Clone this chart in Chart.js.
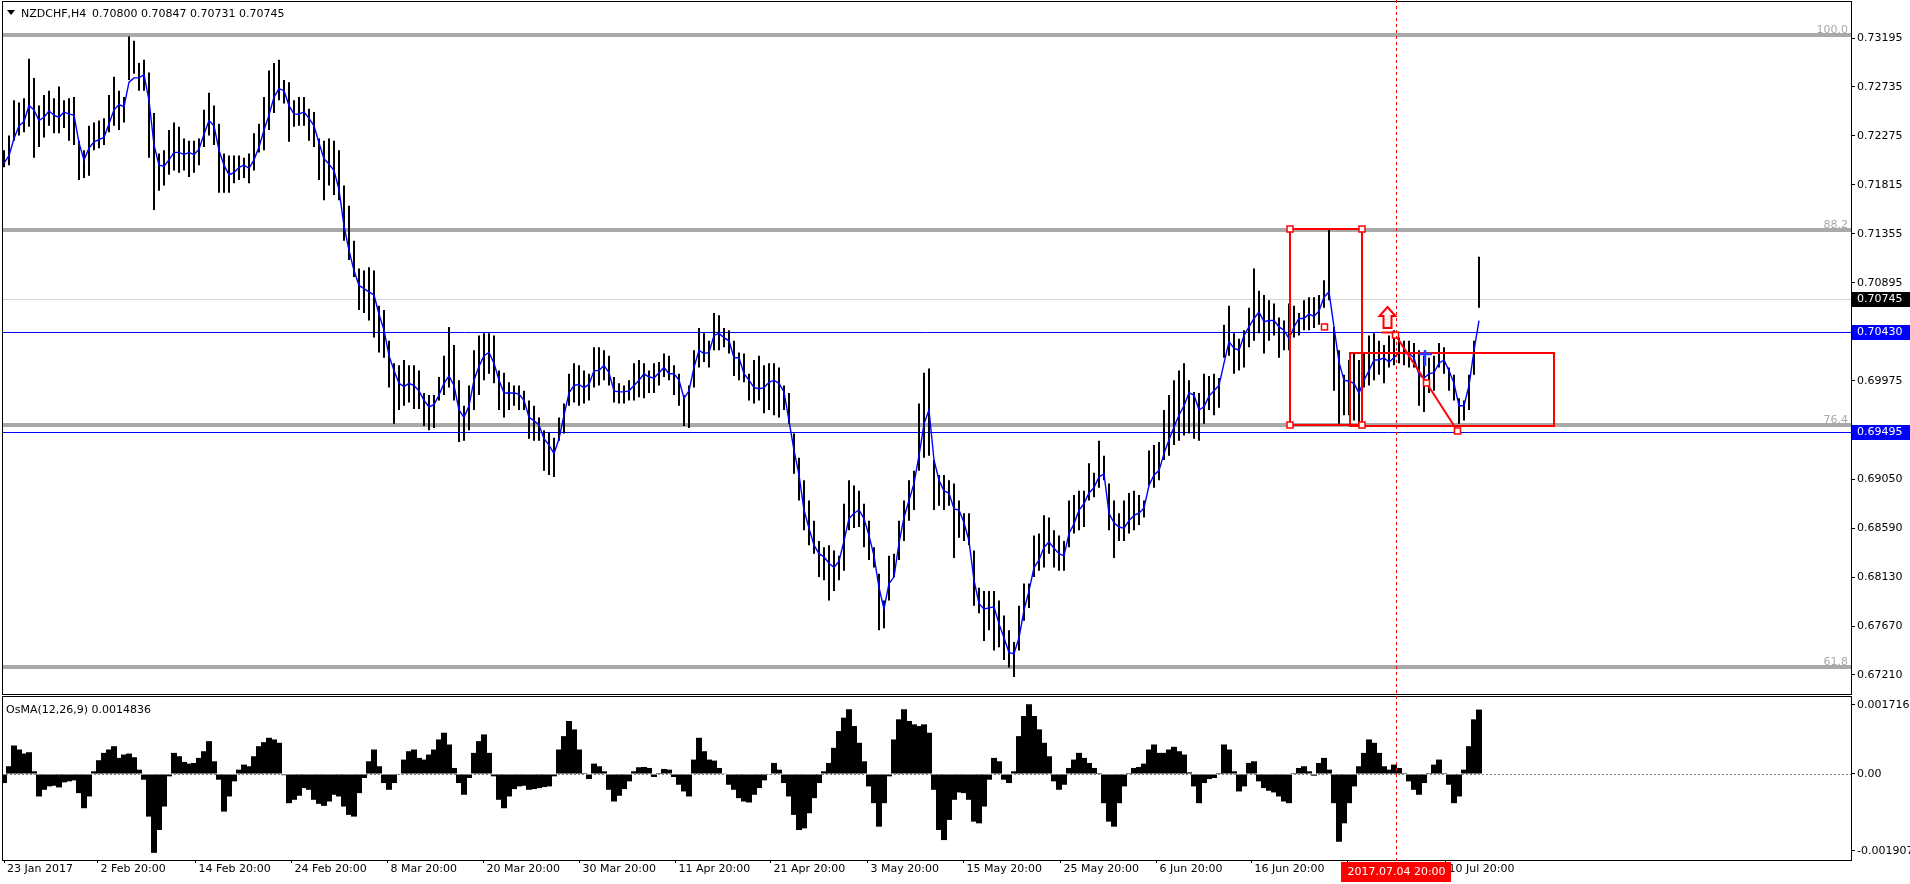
<!DOCTYPE html>
<html>
<head>
<meta charset="utf-8">
<script src="https://cdn.jsdelivr.net/npm/chart.js@4.4.1/dist/chart.umd.min.js"></script>
<style>
  html, body { margin: 0; padding: 0; background: #fff; }
  #wrap { width: 1910px; height: 884px; }
</style>
</head>
<body>
<div id="wrap"><canvas id="chart" width="1910" height="884"></canvas></div>
<script>
// NZDCHF H4 bars, prices in pips (1e-4)
const highs = [
  7214,7228,7261,7259,7263,7300,7282,7256,7266,7270, 7263,7274,7261,7263,7264,7223,7214,7237,7240,7242,
  7244,7266,7283,7270,7264,7321,7317,7296,7299,7287, 7249,7211,7214,7233,7240,7236,7225,7223,7223,7225,
  7252,7268,7256,7239,7211,7209,7209,7209,7207,7211, 7230,7239,7264,7289,7296,7299,7280,7278,7261,7264,
  7264,7253,7250,7225,7223,7225,7223,7214,7181,7162, 7129,7103,7101,7104,7101,7068,7064,7035,7014,7012,
  7017,7012,7012,7007,6986,6984,6984,7001,7021,7048, 7031,6998,6974,6993,7026,7040,7042,7042,7040,7007,
  7005,6996,6993,6993,6988,6979,6974,6963,6951,6949, 6944,6963,6976,7004,7014,7012,7007,7004,7029,7029,
  7026,7021,7001,6995,6993,6998,7014,7017,7014,7007, 7014,7015,7023,7021,7012,7004,6984,6993,7026,7047,
  7042,7035,7061,7059,7047,7045,7035,7024,7023,7004, 7017,7021,7012,7014,7014,7010,6993,6986,6948,6925,
  6904,6885,6866,6847,6841,6843,6838,6833,6882,6904, 6899,6894,6882,6866,6841,6816,6791,6833,6835,6866,
  6885,6904,6913,6976,7005,7009,6923,6909,6909,6904, 6901,6885,6873,6873,6838,6803,6800,6800,6800,6791,
  6777,6763,6752,6786,6807,6807,6852,6854,6871,6869, 6857,6852,6847,6885,6890,6894,6894,6920,6911,6941,
  6927,6901,6885,6873,6885,6892,6894,6890,6885,6932, 6937,6940,6970,6984,6998,7007,7014,6998,6987,6986,
  7004,7002,7004,7000,7050,7068,7042,7037,7045,7066, 7103,7082,7078,7073,7070,7057,7054,7070,7068,7061,
  7073,7076,7076,7078,7092,7139,7048,7026,7003,7017, 7023,7017,7023,7040,7042,7035,7031,7040,7045,7038,
  7035,7035,7033,7026,7021,7019,7021,7033,7029,7010, 7003,6981,6979,7003,7035,7114
];
const lows = [
  7198,7200,7223,7228,7231,7236,7207,7217,7226,7237, 7230,7230,7235,7223,7219,7186,7188,7190,7214,7216,
  7219,7231,7237,7233,7240,7280,7286,7270,7270,7207, 7158,7176,7181,7191,7195,7193,7195,7189,7193,7200,
  7217,7228,7219,7174,7174,7174,7183,7186,7188,7183, 7195,7212,7214,7233,7249,7261,7258,7222,7236,7237,
  7237,7223,7217,7186,7167,7181,7172,7167,7129,7111, 7095,7064,7061,7054,7038,7024,7019,6991,6957,6970,
  6974,6977,6971,6971,6955,6951,6953,6979,6984,6991, 6979,6940,6941,6951,6970,6984,6998,7004,6995,6970,
  6963,6970,6974,6970,6970,6943,6941,6941,6913,6909, 6907,6941,6948,6974,6977,6974,6976,6979,6991,6993,
  6998,6993,6977,6976,6976,6979,6979,6982,6981,6986, 6986,6993,7001,6998,6984,6974,6955,6953,6991,7010,
  7015,7010,7026,7026,7029,7023,7002,6998,6996,6979, 6976,6979,6967,6970,6965,6963,6970,6957,6910,6885,
  6857,6843,6835,6813,6810,6791,6800,6810,6819,6857, 6859,6860,6841,6829,6822,6763,6765,6791,6813,6829,
  6847,6866,6876,6913,6925,6927,6876,6880,6876,6880, 6831,6850,6847,6843,6786,6779,6753,6763,6744,6747,
  6735,6728,6719,6744,6772,6784,6813,6819,6822,6835, 6822,6819,6819,6841,6854,6857,6860,6885,6888,6897,
  6904,6857,6831,6847,6847,6854,6857,6862,6869,6899, 6897,6904,6923,6927,6937,6941,6946,6948,6943,6941,
  6957,6970,6965,6972,7019,7021,7004,7007,7010,7029, 7035,7042,7023,7035,7040,7019,7026,7026,7038,7040,
  7045,7045,7047,7050,7066,7073,6988,6957,6965,6965, 6960,6957,6991,6993,6998,7003,6995,7010,7012,7014,
  7012,7010,7010,6974,6968,6986,6988,7010,7004,6988, 6979,6957,6960,6970,7003,7066
];
// blue moving average, pips
const maLine = [
  7202,7209,7225,7237,7241,7256,7252,7242,7245,7251, 7247,7245,7250,7248,7247,7221,7205,7216,7222,7224,
  7226,7239,7252,7257,7255,7278,7282,7282,7285,7261, 7219,7200,7199,7205,7212,7212,7210,7212,7210,7215,
  7229,7242,7237,7214,7200,7191,7193,7198,7200,7197, 7205,7217,7233,7247,7264,7272,7270,7256,7248,7248,
  7250,7244,7237,7221,7206,7201,7195,7177,7143,7120, 7101,7087,7084,7081,7078,7060,7045,7021,7007,6995,
  6992,6995,6993,6988,6979,6973,6975,6984,6995,7002, 6993,6970,6963,6974,6998,7011,7021,7024,7014,6998,
  6986,6986,6986,6985,6979,6963,6960,6956,6943,6937, 6929,6943,6965,6986,6993,6994,6991,6994,7007,7007,
  7012,7005,6988,6987,6987,6988,6993,6998,7004,7001, 7000,7005,7010,7004,7004,6998,6981,6988,7010,7026,
  7023,7024,7040,7042,7038,7035,7019,7019,7004,6998, 6991,6990,6991,6996,6998,6995,6987,6960,6932,6909,
  6876,6859,6843,6835,6832,6826,6822,6828,6847,6868, 6873,6876,6868,6852,6833,6803,6783,6807,6813,6845,
  6869,6885,6901,6927,6957,6970,6923,6904,6894,6892, 6877,6876,6864,6847,6810,6788,6783,6784,6785,6769,
  6756,6742,6741,6756,6782,6800,6822,6829,6841,6846, 6840,6835,6833,6854,6863,6876,6882,6892,6897,6907,
  6910,6873,6864,6860,6859,6866,6871,6873,6878,6899, 6909,6913,6929,6942,6954,6965,6974,6986,6984,6970,
  6973,6983,6988,6993,7014,7034,7028,7026,7040,7048, 7056,7062,7053,7054,7054,7048,7045,7037,7048,7056,
  7056,7060,7058,7063,7076,7081,7048,7015,6998,6997, 6995,6986,6998,7007,7017,7017,7019,7015,7019,7024,
  7023,7023,7019,7003,7000,7004,7005,7014,7017,7007, 6995,6974,6974,6993,7026,7054
];
// OsMA(12,26,9) histogram, in 1e-6
const osma = [
  -225,192,708,608,508,541,67,-558,-392,-308, -292,-333,-208,-183,-158,-475,-850,-558,67,342,
  525,608,691,400,483,508,416,108,-142,-1058, -1958,-1391,-808,-58,525,441,300,258,275,400,
  566,816,316,-142,-933,-558,-183,108,233,192, 441,691,791,900,858,775,-30,-725,-641,-541,
  -350,-392,-641,-741,-791,-683,-516,-558,-808,-1016, -1058,-475,-100,316,608,192,-225,-392,-225,-17,
  358,566,608,400,358,483,608,858,1025,733, 150,-225,-516,-100,525,816,983,525,-58,-641,
  -850,-558,-375,-308,-292,-392,-375,-350,-325,-308, -58,608,941,1316,1108,608,25,-125,258,192,
  67,-392,-683,-541,-375,-183,67,167,175,150, -75,25,125,108,-75,-267,-433,-558,358,900,
  566,358,333,150,8,-267,-392,-600,-683,-708, -516,-350,-158,-17,275,108,-225,-558,-1016,-1391,
  -1350,-975,-600,-225,67,275,650,1066,1399,1608, 1191,775,316,-308,-725,-1308,-725,-58,858,1358,
  1608,1316,1233,1191,1233,1025,-392,-1391,-1641,-1141, -641,-458,-475,-641,-1183,-1225,-808,-142,400,316,
  -142,-225,67,941,1441,1733,1441,1108,775,441, -183,-392,-267,150,358,525,400,275,150,25,
  -725,-1183,-1308,-725,-308,25,150,175,258,608, 733,525,525,608,675,566,483,42,-308,-725,
  -225,-125,-100,25,733,608,67,-433,-308,275, 316,-183,-350,-417,-458,-558,-683,-725,25,150,
  192,67,-42,275,400,108,-725,-1683,-1225,-725, -308,192,525,858,775,525,192,108,233,150,
  25,-183,-392,-516,-225,25,233,358,25,-267, -725,-558,108,691,1358,1600
];

const priceTicks = [0.73195, 0.72735, 0.72275, 0.71815, 0.71355, 0.70895, 0.69975, 0.69050, 0.68590, 0.68130, 0.67670, 0.67210];
const osmaTicks = [0.0017164, 0, -0.001907];
const osmaTickText = ["0.0017164", "0.00", "-0.001907"];
// time axis: bar index where each label sits
const timeAt = [0.0, 18.7, 38.3, 57.5, 76.7, 95.9, 115.1, 134.3, 153.3, 172.7, 191.9, 211.3, 230.5, 249.5, 268.7, 288.3];
const timeLabels = ["23 Jan 2017", "2 Feb 20:00", "14 Feb 20:00", "24 Feb 20:00", "8 Mar 20:00", "20 Mar 20:00",
  "30 Mar 20:00", "11 Apr 20:00", "21 Apr 20:00", "3 May 20:00", "15 May 20:00", "25 May 20:00",
  "6 Jun 20:00", "16 Jun 20:00", "28 Jun 20:00", "10 Jul 20:00"];

// objects on the chart
const fibLevels = [100.0, 88.2, 76.4, 61.8];
const fibTop = 0.73223, fibRange = 0.15545;
const blueLevels = [0.70430, 0.69495];
const bidPrice = 0.70745;
const headerSymbol = "NZDCHF,H4";
const headerOhlc = "0.70800 0.70847 0.70731 0.70745";
const osmaTitle = "OsMA(12,26,9) 0.0014836";
const crossAt = 278.3, crossLabel = "2017.07.04 20:00";
const rects = [[257.1, 0.71400, 271.5, 0.69559], [269.1, 0.70235, 309.9, 0.69550]];
const trendLine = [[278.3, 0.70404], [290.7, 0.69503]];
const lonePoint = [264.1, 0.70480];
const upArrow = [276.7, 0.70433];
const blueMark = [284.1, 0.70226];

const fibPrice = (lvl) => fibTop - (100 - lvl) / 100 * fibRange;
const FONT = '11px "DejaVu Sans"';

const handle = (ctx, px, py) => {
  ctx.fillStyle = '#fff';
  ctx.fillRect(px - 3, py - 3, 6, 6);
  ctx.strokeRect(px - 3, py - 3, 6, 6);
};

// no extra room for tick labels, the panes are placed by hand
const noPad = (s) => { s.paddingLeft = 0; s.paddingRight = 0; s.paddingTop = 0; s.paddingBottom = 0; };

const overlay = {
  id: 'overlay',
  beforeDatasetsDraw(chart) {
    const { ctx, scales: { y } } = chart;
    const L = 2, R = 1851;
    ctx.save();
    ctx.strokeStyle = '#a9a9a9';
    ctx.lineWidth = 4;
    fibLevels.forEach((lvl) => {
      const py = Math.round(y.getPixelForValue(fibPrice(lvl)));
      ctx.beginPath(); ctx.moveTo(L, py); ctx.lineTo(R, py); ctx.stroke();
    });
    ctx.lineWidth = 1;
    ctx.strokeStyle = '#d3d3d3';
    const py = Math.round(y.getPixelForValue(bidPrice)) + 0.5;
    ctx.beginPath(); ctx.moveTo(L, py); ctx.lineTo(R, py); ctx.stroke();
    ctx.strokeStyle = '#0000ff';
    blueLevels.forEach((v) => {
      const p = Math.round(y.getPixelForValue(v)) + 0.5;
      ctx.beginPath(); ctx.moveTo(L, p); ctx.lineTo(R, p); ctx.stroke();
    });
    ctx.restore();
  },
  afterDatasetsDraw(chart) {
    const { ctx, scales: { x, y, y2 } } = chart;
    ctx.save();
    // zero line of the oscillator
    const z = Math.round(y2.getPixelForValue(0)) + 0.5;
    ctx.strokeStyle = '#808080';
    ctx.setLineDash([2, 2]);
    ctx.beginPath(); ctx.moveTo(2, z); ctx.lineTo(1851, z); ctx.stroke();
    ctx.setLineDash([]);

    // red rectangles
    ctx.strokeStyle = '#ff0000';
    ctx.lineWidth = 2;
    rects.forEach(([i0, p0, i1, p1]) => {
      const x0 = Math.round(x.getPixelForValue(i0)), x1 = Math.round(x.getPixelForValue(i1));
      const y0 = Math.round(y.getPixelForValue(p0)), y1 = Math.round(y.getPixelForValue(p1));
      ctx.strokeRect(x0, y0, x1 - x0, y1 - y0);
    });
    // trend line
    const t0 = [x.getPixelForValue(trendLine[0][0]), y.getPixelForValue(trendLine[0][1])];
    const t1 = [x.getPixelForValue(trendLine[1][0]), y.getPixelForValue(trendLine[1][1])];
    ctx.beginPath(); ctx.moveTo(t0[0], t0[1]); ctx.lineTo(t1[0], t1[1]); ctx.stroke();

    // handles of the selected objects
    ctx.lineWidth = 1.5;
    const [i0, p0, i1, p1] = rects[0];
    const hx0 = Math.round(x.getPixelForValue(i0)), hx1 = Math.round(x.getPixelForValue(i1));
    const hy0 = Math.round(y.getPixelForValue(p0)), hy1 = Math.round(y.getPixelForValue(p1));
    handle(ctx, hx0, hy0); handle(ctx, hx1, hy0); handle(ctx, hx0, hy1); handle(ctx, hx1, hy1);
    handle(ctx, t0[0], t0[1]); handle(ctx, t1[0], t1[1]);
    handle(ctx, (t0[0] + t1[0]) / 2, (t0[1] + t1[1]) / 2);
    handle(ctx, x.getPixelForValue(lonePoint[0]), y.getPixelForValue(lonePoint[1]));

    // up arrow sign
    const ax = x.getPixelForValue(upArrow[0]), ay = Math.round(y.getPixelForValue(upArrow[1]));
    ctx.lineWidth = 2;
    ctx.beginPath(); ctx.moveTo(ax - 6, ay + 0.5); ctx.lineTo(ax + 7, ay + 0.5); ctx.stroke();
    ctx.beginPath();
    ctx.moveTo(ax, ay - 25);
    ctx.lineTo(ax + 8, ay - 16);
    ctx.lineTo(ax + 4, ay - 16);
    ctx.lineTo(ax + 4, ay - 4);
    ctx.lineTo(ax - 4, ay - 4);
    ctx.lineTo(ax - 4, ay - 16);
    ctx.lineTo(ax - 8, ay - 16);
    ctx.closePath();
    ctx.fillStyle = '#fff4f4';
    ctx.fill();
    ctx.stroke();

    // blue mark
    const bx = Math.round(x.getPixelForValue(blueMark[0])), by = Math.round(y.getPixelForValue(blueMark[1]));
    ctx.strokeStyle = '#1f3dff';
    ctx.lineWidth = 2.5;
    ctx.beginPath(); ctx.moveTo(bx - 6, by); ctx.lineTo(bx + 7, by); ctx.stroke();
    ctx.beginPath(); ctx.moveTo(bx, by - 4); ctx.lineTo(bx, by + 12); ctx.stroke();

    // pane frames
    ctx.strokeStyle = '#000';
    ctx.lineWidth = 1;
    ctx.strokeRect(2.5, 1.5, 1849, 693);
    ctx.strokeRect(2.5, 696.5, 1849, 164);
    ctx.restore();
  },
  afterDraw(chart) {
    const { ctx, scales: { x, y } } = chart;
    ctx.save();
    ctx.font = FONT;
    // header
    ctx.fillStyle = '#000';
    ctx.beginPath(); ctx.moveTo(7, 10); ctx.lineTo(15, 10); ctx.lineTo(11, 15); ctx.closePath(); ctx.fill();
    ctx.textBaseline = 'alphabetic';
    ctx.fillText(headerSymbol, 21, 17);
    ctx.fillText(headerOhlc, 92, 17);
    ctx.fillText(osmaTitle, 6, 713);

    // fibo level captions
    ctx.fillStyle = '#a9a9a9';
    ctx.textAlign = 'right';
    fibLevels.forEach((lvl) => {
      const py = Math.round(y.getPixelForValue(fibPrice(lvl)));
      ctx.fillText(lvl.toFixed(1), 1848, py - 2);
    });

    // price boxes on the axis
    ctx.textAlign = 'left';
    ctx.textBaseline = 'middle';
    [[bidPrice, '#000'], [blueLevels[0], '#0000ff'], [blueLevels[1], '#0000ff']].forEach(([v, c]) => {
      const py = Math.round(y.getPixelForValue(v));
      ctx.fillStyle = c;
      ctx.fillRect(1852, py - 7, 58, 15);
      ctx.fillStyle = '#fff';
      ctx.fillText(v.toFixed(5), 1857, py + 0.5);
    });

    // crosshair
    const cx = Math.round(x.getPixelForValue(crossAt)) + 0.5;
    ctx.strokeStyle = '#ff0000';
    ctx.lineWidth = 1;
    ctx.setLineDash([3, 3]);
    ctx.beginPath(); ctx.moveTo(cx, 0); ctx.lineTo(cx, 862); ctx.stroke();
    ctx.setLineDash([]);
    const w = ctx.measureText(crossLabel).width + 12;
    ctx.fillStyle = '#ff0000';
    ctx.fillRect(Math.round(cx - w / 2), 862, Math.round(w), 20);
    ctx.fillStyle = '#fff';
    ctx.textAlign = 'center';
    ctx.fillText(crossLabel, cx, 872);
    ctx.restore();
  }
};

Chart.defaults.font.family = '"DejaVu Sans", sans-serif';
Chart.defaults.font.size = 11;
Chart.defaults.color = '#000';

new Chart(document.getElementById('chart'), {
  data: {
    datasets: [
      {
        type: 'line',
        data: maLine.map((v, i) => ({ x: i, y: v / 1e4 })),
        yAxisID: 'y',
        borderColor: '#0000ff',
        borderWidth: 1.4,
        pointRadius: 0,
        tension: 0,
        order: 0
      },
      {
        type: 'bar',
        data: highs.map((h, i) => ({ x: i, y: [lows[i] / 1e4, h / 1e4] })),
        yAxisID: 'y',
        backgroundColor: '#000',
        barThickness: 2,
        inflateAmount: 0,
        grouped: false,
        order: 1
      },
      {
        type: 'bar',
        data: osma.map((v, i) => ({ x: i, y: v / 1e6 })),
        yAxisID: 'y2',
        backgroundColor: '#000',
        barThickness: 6,
        inflateAmount: 0,
        grouped: false,
        order: 2
      }
    ]
  },
  options: {
    responsive: false,
    animation: false,
    devicePixelRatio: 1,
    events: [],
    layout: { padding: { top: 1, left: 2, right: 0, bottom: 0 } },
    plugins: { legend: { display: false }, tooltip: { enabled: false } },
    scales: {
      x: {
        type: 'linear',
        position: 'bottom',
        offset: false,
        min: -0.4,
        max: 369.4,
        afterFit: (s) => { s.height = 24; noPad(s); },
        afterBuildTicks: (s) => { s.ticks = timeAt.map((v) => ({ value: v })); },
        grid: { offset: false, drawOnChartArea: false, drawTicks: true, tickLength: 3, color: '#000' },
        border: { display: false },
        ticks: {
          autoSkip: false, maxRotation: 0, minRotation: 0, align: 'start', labelOffset: 3, padding: 0,
          callback: (v, i) => timeLabels[i]
        }
      },
      y: {
        type: 'linear',
        position: 'right',
        stack: 'panes',
        stackWeight: 694,
        min: 0.670219,
        max: 0.735427,
        afterFit: (s) => { s.width = 59; noPad(s); },
        afterBuildTicks: (s) => { s.ticks = priceTicks.map((v) => ({ value: v })); },
        grid: { drawOnChartArea: false, drawTicks: true, tickLength: 4, color: '#000' },
        border: { display: false },
        ticks: { autoSkip: false, padding: 2, callback: (v) => v.toFixed(5) }
      },
      y2: {
        type: 'linear',
        position: 'right',
        stack: 'panes',
        stackWeight: 165,
        min: -0.0021361,
        max: 0.0019622,
        afterFit: (s) => { s.width = 59; noPad(s); },
        afterBuildTicks: (s) => { s.ticks = osmaTicks.map((v) => ({ value: v })); },
        grid: { drawOnChartArea: false, drawTicks: true, tickLength: 4, color: '#000' },
        border: { display: false },
        ticks: { autoSkip: false, padding: 2, callback: (v, i) => osmaTickText[i] }
      }
    }
  },
  plugins: [overlay]
});
</script>
</body>
</html>
